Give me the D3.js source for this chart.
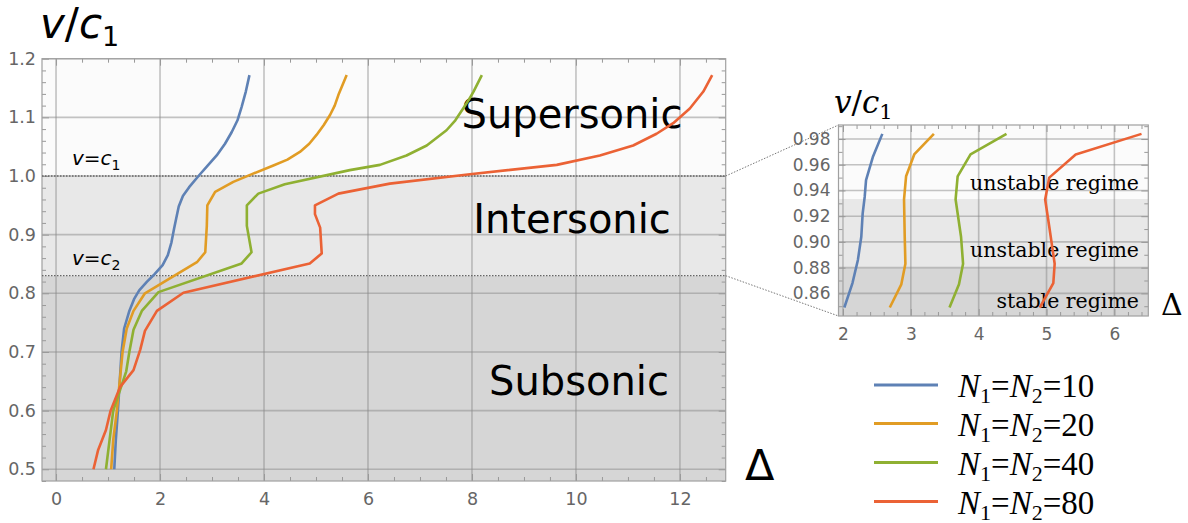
<!DOCTYPE html>
<html>
<head>
<meta charset="utf-8">
<script src="https://cdn.jsdelivr.net/npm/d3@7"></script>
<style>
  body { margin: 0; background: #fff; }
  svg { display: block; }
</style>
</head>
<body>
<div id="viz"></div>
<script>
// ---- data ----
const seriesN = [10, 20, 40, 80];
const colors = ["#5E81B5", "#E19C24", "#8FB032", "#EB6235"];

// main panel: [delta, v/c1]
const mainN10 = [[1.12,0.5],[1.15,0.55],[1.19,0.6],[1.26,0.7],[1.31,0.74],[1.41,0.77],[1.5,0.79],[1.6,0.805],[1.75,0.82],[1.9,0.833],[2.05,0.848],[2.15,0.865],[2.22,0.887],[2.27,0.91],[2.31,0.927],[2.36,0.948],[2.44,0.966],[2.56,0.981],[2.74,1.0],[2.92,1.018],[3.09,1.035],[3.25,1.055],[3.38,1.075],[3.49,1.095],[3.57,1.118],[3.65,1.144],[3.72,1.172]];
const mainN20 = [[1.06,0.5],[1.1,0.55],[1.17,0.6],[1.28,0.7],[1.36,0.74],[1.49,0.77],[1.71,0.8],[2.71,0.853],[2.87,0.87],[2.9,0.915],[2.91,0.95],[3.06,0.973],[3.41,0.99],[3.79,1.004],[4.18,1.018],[4.45,1.028],[4.69,1.041],[4.87,1.055],[5.01,1.07],[5.15,1.087],[5.27,1.104],[5.36,1.12],[5.43,1.138],[5.51,1.155],[5.59,1.172]];
const mainN40 = [[0.96,0.5],[1.03,0.55],[1.1,0.6],[1.35,0.667],[1.41,0.7],[1.49,0.738],[1.65,0.77],[1.97,0.802],[3.57,0.851],[3.76,0.87],[3.67,0.915],[3.67,0.95],[3.89,0.97],[4.4,0.986],[5.65,1.01],[6.23,1.019],[6.74,1.035],[7.13,1.052],[7.51,1.078],[7.68,1.095],[7.83,1.115],[7.94,1.13],[8.03,1.144],[8.19,1.172]];
const mainN80 = [[0.72,0.5],[0.81,0.533],[0.96,0.567],[1.05,0.6],[1.23,0.64],[1.49,0.669],[1.62,0.704],[1.71,0.736],[1.94,0.77],[2.45,0.801],[4.88,0.851],[5.11,0.868],[5.08,0.912],[4.98,0.935],[4.98,0.95],[5.43,0.97],[6.42,0.987],[7.96,1.003],[9.63,1.019],[10.46,1.035],[11.1,1.052],[11.55,1.072],[11.87,1.09],[12.19,1.115],[12.45,1.144],[12.62,1.172]];

// inset panel
const insetN10 = [[2.02,0.849],[2.14,0.868],[2.22,0.886],[2.27,0.904],[2.29,0.922],[2.32,0.935],[2.34,0.948],[2.44,0.966],[2.58,0.984]];
const insetN20 = [[2.69,0.849],[2.86,0.867],[2.92,0.883],[2.91,0.904],[2.9,0.933],[2.93,0.951],[3.05,0.968],[3.34,0.984]];
const insetN40 = [[3.57,0.849],[3.71,0.867],[3.77,0.883],[3.74,0.904],[3.66,0.933],[3.69,0.951],[3.88,0.968],[4.41,0.984]];
const insetN80 = [[4.9,0.849],[5.1,0.868],[5.12,0.883],[5.04,0.912],[4.98,0.933],[5.04,0.95],[5.43,0.968],[6.4,0.984]];

const mainXTicks = [0, 2, 4, 6, 8, 10, 12];
const mainYTicks = [0.5, 0.6, 0.7, 0.8, 0.9, 1.0, 1.1, 1.2];
const insetXTicks = [2, 3, 4, 5, 6];
const insetYTicks = [0.86, 0.88, 0.90, 0.92, 0.94, 0.96, 0.98];

const c1 = 1.0, c2 = 0.83;                 // main regime boundaries
const insetBounds = [0.88, 0.9335];         // inset regime boundaries
const regionNames = ["Subsonic", "Intersonic", "Supersonic"];
const insetRegionNames = ["stable regime", "unstable regime", "unstable regime"];

// ---- setup ----
const W = 1188, H = 523;
const svg = d3.select("#viz").append("svg").attr("width", W).attr("height", H);
const sans = "DejaVu Sans, sans-serif";
const serif = "DejaVu Serif, serif";

const xMain = d3.scaleLinear().domain([-0.27, 12.88]).range([42, 725.7]);
const yMain = d3.scaleLinear().domain([0.48, 1.2]).range([481, 58.7]);
const xIn = d3.scaleLinear().domain([1.934, 6.5]).range([838.5, 1148.3]);
const yIn = d3.scaleLinear().domain([0.8424, 0.9909]).range([316, 125]);

const bandFills = ["#d6d6d6", "#e8e8e8", "#fbfbfb"];

function drawPanel(g, x, y, bounds, xt, yt, xMinor, yMinor, fs, pads) {
  const [x0, x1] = x.range(), [yb, yt0] = y.range();
  const [d0, d1] = y.domain();
  const edges = [d0, ...bounds, d1];
  // background bands
  g.selectAll("rect.band").data(d3.range(3)).join("rect")
    .attr("x", x0).attr("width", x1 - x0)
    .attr("y", i => y(edges[i + 1])).attr("height", i => y(edges[i]) - y(edges[i + 1]))
    .attr("fill", i => bandFills[i]);
  // grid
  g.append("g").selectAll("line").data(xt).join("line")
    .attr("x1", x).attr("x2", x).attr("y1", yb).attr("y2", yt0)
    .attr("stroke", "#8a8a8a").attr("stroke-opacity", 0.5).attr("stroke-width", 1.6);
  g.append("g").selectAll("line").data(yt).join("line")
    .attr("y1", y).attr("y2", y).attr("x1", x0).attr("x2", x1)
    .attr("stroke", "#8a8a8a").attr("stroke-opacity", 0.5).attr("stroke-width", 1.6);

  const styleAxis = a => {
    a.select(".domain").remove();
    a.selectAll("line").attr("stroke", "#999").attr("stroke-width", 1);
    a.selectAll("text").attr("fill", "#666").style("font-family", sans).style("font-size", fs + "px");
  };
  const fmtY = d3.format(yt[1] - yt[0] < 0.05 ? ".2f" : ".1f");
  // major + minor ticks on all four sides
  g.append("g").attr("transform", `translate(0,${yb})`)
    .call(d3.axisBottom(x).tickValues(xt).tickSize(-7).tickPadding(pads[1]).tickFormat(d3.format("d"))).call(styleAxis);
  g.append("g").attr("transform", `translate(0,${yb})`)
    .call(d3.axisBottom(x).tickValues(xMinor).tickSize(-4).tickFormat("")).call(styleAxis);
  g.append("g").attr("transform", `translate(0,${yt0})`)
    .call(d3.axisTop(x).tickValues(xt).tickSize(-7).tickFormat("")).call(styleAxis);
  g.append("g").attr("transform", `translate(0,${yt0})`)
    .call(d3.axisTop(x).tickValues(xMinor).tickSize(-4).tickFormat("")).call(styleAxis);
  g.append("g").attr("transform", `translate(${x0},0)`)
    .call(d3.axisLeft(y).tickValues(yt).tickSize(-7).tickPadding(pads[0]).tickFormat(fmtY)).call(styleAxis);
  g.append("g").attr("transform", `translate(${x0},0)`)
    .call(d3.axisLeft(y).tickValues(yMinor).tickSize(-4).tickFormat("")).call(styleAxis);
  g.append("g").attr("transform", `translate(${x1},0)`)
    .call(d3.axisRight(y).tickValues(yt).tickSize(-7).tickFormat("")).call(styleAxis);
  g.append("g").attr("transform", `translate(${x1},0)`)
    .call(d3.axisRight(y).tickValues(yMinor).tickSize(-4).tickFormat("")).call(styleAxis);
  // frame
  g.append("rect").attr("x", x0).attr("y", yt0).attr("width", x1 - x0).attr("height", yb - yt0)
    .attr("fill", "none").attr("stroke", "#a0a0a0").attr("stroke-width", 1.2);
}

function drawCurves(g, x, y, data) {
  const line = d3.line().x(d => x(d[0])).y(d => y(d[1]));
  g.append("g").selectAll("path").data(data).join("path")
    .attr("d", line).attr("fill", "none")
    .attr("stroke", (d, i) => colors[i]).attr("stroke-width", 2.6)
    .attr("stroke-linejoin", "round");
}

// ---- main panel ----
const gm = svg.append("g");
drawPanel(gm, xMain, yMain, [c2, c1], mainXTicks, mainYTicks,
  d3.range(0, 12.9, 0.5).filter(v => v % 2 !== 0),
  d3.range(0.48, 1.201, 0.02).map(v => +v.toFixed(2)).filter(v => Math.round(v * 100) % 10 !== 0),
  17.5, [6, 12]);

// dotted speed lines
gm.append("g").selectAll("line").data([c1, c2]).join("line")
  .attr("x1", xMain.range()[0]).attr("x2", xMain.range()[1])
  .attr("y1", yMain).attr("y2", yMain)
  .attr("stroke", "#666").attr("stroke-width", 1.3).attr("stroke-dasharray", "1.5,1.5");

// region labels
const regionPos = [[579, 395], [572, 233], [572, 128]];
gm.append("g").selectAll("text").data(regionNames).join("text")
  .attr("x", (d, i) => regionPos[i][0]).attr("y", (d, i) => regionPos[i][1])
  .attr("text-anchor", "middle").style("font-family", sans).style("font-size", "40px")
  .attr("fill", "#000").text(d => d);

drawCurves(gm, xMain, yMain, [mainN10, mainN20, mainN40, mainN80]);

// v=c labels
[[c1, "1"], [c2, "2"]].forEach(([v, s]) => {
  const t = gm.append("text").attr("x", 72).attr("y", yMain(v) - 11)
    .style("font-family", sans).style("font-size", "20px").attr("fill", "#000");
  t.append("tspan").style("font-style", "italic").text("v");
  t.append("tspan").text("=");
  t.append("tspan").style("font-style", "italic").text("c");
  t.append("tspan").attr("dy", 5).style("font-size", "14px").text(s);
});

// axis titles
const tm = svg.append("text").attr("x", 40).attr("y", 38)
  .style("font-family", sans).style("font-size", "42px").attr("fill", "#000");
tm.append("tspan").style("font-style", "italic").text("v");
tm.append("tspan").text("/");
tm.append("tspan").style("font-style", "italic").text("c");
tm.append("tspan").attr("dy", 8).style("font-size", "27px").text("1");
svg.append("text").attr("x", 745).attr("y", 480)
  .style("font-family", sans).style("font-size", "43px").attr("fill", "#000").text("Δ");

// ---- connector lines ----
const conn = [
  [xMain.range()[1], yMain(c1), xIn.range()[0], yIn.range()[1]],
  [xMain.range()[1], yMain(c2), xIn.range()[0], yIn.range()[0]]
];
svg.append("g").selectAll("line").data(conn).join("line")
  .attr("x1", d => d[0]).attr("y1", d => d[1]).attr("x2", d => d[2]).attr("y2", d => d[3])
  .attr("stroke", "#777").attr("stroke-width", 1).attr("stroke-dasharray", "1.5,1.5");

// ---- inset ----
const gi = svg.append("g");
drawPanel(gi, xIn, yIn, insetBounds, insetXTicks, insetYTicks,
  d3.range(2, 6.5, 0.2).map(v => +v.toFixed(1)).filter(v => !Number.isInteger(v)),
  d3.range(0.85, 0.99, 0.01).map(v => +v.toFixed(2)).filter(v => Math.round(v * 100) % 2 !== 0),
  17, [8, 12]);

const insetLabelY = [308, 256.5, 190];
gi.append("g").selectAll("text").data(insetRegionNames).join("text")
  .attr("x", 1139).attr("y", (d, i) => insetLabelY[i])
  .attr("text-anchor", "end").style("font-family", serif).style("font-size", "20.5px")
  .attr("fill", "#000").text(d => d);

drawCurves(gi, xIn, yIn, [insetN10, insetN20, insetN40, insetN80]);

const ti = svg.append("text").attr("x", 834).attr("y", 113)
  .style("font-family", serif).style("font-size", "31px").attr("fill", "#000");
ti.append("tspan").style("font-style", "italic").text("v");
ti.append("tspan").text("/");
ti.append("tspan").style("font-style", "italic").text("c");
ti.append("tspan").attr("dy", 6).style("font-size", "21px").text("1");
svg.append("text").attr("x", 1161).attr("y", 315)
  .style("font-family", serif).style("font-size", "30px").attr("fill", "#000").text("Δ");

// ---- legend ----
const legendY = [385, 423.5, 462.5, 501.5];
const lg = svg.append("g").selectAll("g").data(seriesN).join("g")
  .attr("transform", (d, i) => `translate(0,${legendY[i]})`);
lg.append("line").attr("x1", 874).attr("x2", 938).attr("y1", 0).attr("y2", 0)
  .attr("stroke", (d, i) => colors[i]).attr("stroke-width", 3);
const lt = lg.append("text").attr("x", 958).attr("y", 12)
  .style("font-family", "Liberation Serif, serif").style("font-size", "33px").attr("fill", "#000");
lt.append("tspan").style("font-style", "italic").text("N");
lt.append("tspan").attr("dy", 6).style("font-size", "22px").text("1");
lt.append("tspan").attr("dy", -6).text("=");
lt.append("tspan").style("font-style", "italic").text("N");
lt.append("tspan").attr("dy", 6).style("font-size", "22px").text("2");
lt.append("tspan").attr("dy", -6).text(d => "=" + d);
</script>
</body>
</html>
